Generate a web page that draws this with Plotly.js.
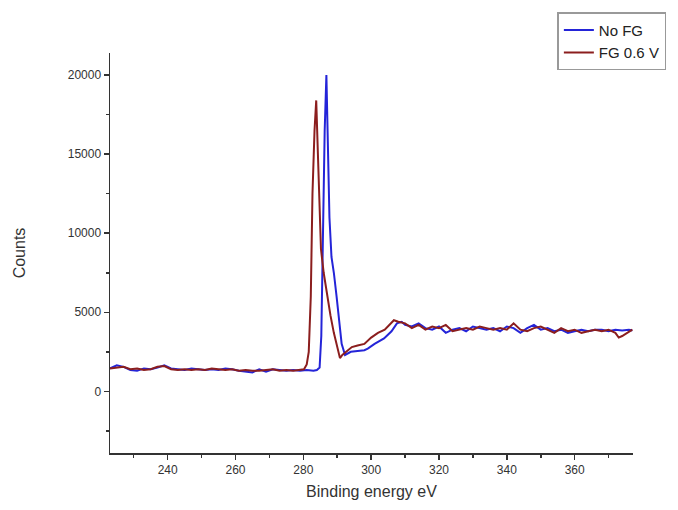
<!DOCTYPE html>
<html>
<head>
<meta charset="utf-8">
<script src="https://cdn.plot.ly/plotly-3.0.1.min.js"></script>
<style>html,body{margin:0;padding:0;background:#fff;}#chart{width:678px;height:510px;}</style>
</head>
<body>
<div id="chart"></div>
<script>
const xNoFG = [223,225,227,229,231,233,235,237,239,241,243,245,247,249,251,253,255,257,259,261,263,265,267,269,271,273,275,277,279,281,283,284,284.8,285.3,285.8,286.3,286.8,287.2,287.7,288.3,289,289.8,290.6,291.3,292.3,293,294,296,298,299,301,303.8,306,307.6,309,310,312,314,316,318,320,322,324,326,328,330,332,334,336,338,340,342,344,346,348,350,352,354,356,358,360,362,364,366,368,370,372,374,376,377];
const yNoFG = [1450,1650,1550,1350,1300,1450,1400,1500,1650,1450,1400,1350,1450,1400,1350,1400,1350,1450,1400,1300,1250,1200,1400,1250,1400,1350,1300,1350,1300,1350,1300,1350,1500,3500,10000,16500,20000,15000,11000,8500,7500,6000,4500,3000,2300,2400,2500,2550,2600,2700,3000,3350,3800,4300,4400,4200,4100,4300,4000,3900,4100,3700,3900,4000,3800,4100,4000,3900,4000,3800,4100,4000,3700,4000,4200,3900,4000,3800,3900,3700,3800,3900,3800,3900,3900,3800,3900,3850,3900,3850];
const xFG06 = [223,225,227,229,231,233,235,237,239,241,243,245,247,249,251,253,255,257,259,261,263,265,267,269,271,273,275,277,279,280.2,281,281.6,282.2,282.7,283.3,283.8,284.3,284.8,285.2,286,287,288,289,290,290.8,291.5,292.5,294.3,296,298,300,302,304,306.7,308,310,312,314,316,318,320,322,324,326,328,330,332,334,336,338,340,342,344,346,348,350,352,354,356,358,360,362,364,366,368,370,372,373,374,376,377];
const yFG06 = [1450,1500,1550,1400,1450,1350,1400,1550,1600,1400,1350,1400,1350,1400,1350,1450,1400,1350,1400,1300,1350,1300,1300,1350,1400,1300,1350,1300,1350,1400,1700,2500,6000,12500,16500,18400,15000,11000,9000,7500,6000,4800,3700,2700,2100,2300,2500,2800,2900,3000,3400,3700,3900,4500,4400,4300,4000,4200,3900,4100,4000,4200,3800,3900,4000,3900,4100,4000,3900,4000,3900,4300,3900,3800,4000,4100,3900,3700,4000,3800,3900,3700,3800,3900,3800,3900,3700,3400,3500,3800,3900];
const seriesNames = ["No FG", "FG 0.6 V"];
const xTickVals = [240,260,280,300,320,340,360];
const yTickVals = [0,5000,10000,15000,20000];

const traces = [
  {x: xNoFG, y: yNoFG, name: seriesNames[0], type: 'scatter', mode: 'lines', line: {color: '#2424d8', width: 2}},
  {x: xFG06, y: yFG06, name: seriesNames[1], type: 'scatter', mode: 'lines', line: {color: '#8b1e1e', width: 2}}
];
const fam = 'Liberation Sans, Arial, sans-serif';
const axisFont = {family: fam, size: 12, color: '#333'};
const layout = {
  width: 678, height: 510,
  paper_bgcolor: '#fff', plot_bgcolor: '#fff',
  margin: {l: 110, r: 35, t: 53, b: 57},
  showlegend: true,
  legend: {x: 1.0638, y: 1.102, xanchor: 'right', yanchor: 'top', bordercolor: '#999', borderwidth: 1.5,
           font: {family: fam, size: 15, color: '#222'}, tracegroupgap: 0},
  xaxis: {range: [223, 377.2], tickvals: xTickVals, ticktext: xTickVals.map(String), showgrid: false, zeroline: false, showline: true, linecolor: '#333', linewidth: 1.5,
          ticks: 'outside', ticklen: 5, tickcolor: '#333', tickwidth: 1.5, tickfont: axisFont, mirror: false,
          minor: {dtick: 10, tick0: 0, ticks: 'outside', ticklen: 3, tickcolor: '#333', showgrid: false},
          title: {text: 'Binding energy eV', font: {family: fam, size: 16, color: '#333'}, standoff: 10}},
  yaxis: {range: [-3900, 21400], tickvals: yTickVals, ticktext: yTickVals.map(String), showgrid: false, zeroline: false, showline: true, linecolor: '#333', linewidth: 1.5,
          ticks: 'outside', ticklen: 5, tickcolor: '#333', tickwidth: 1.5, tickfont: axisFont, mirror: false,
          minor: {dtick: 2500, tick0: 0, ticks: 'outside', ticklen: 3, tickcolor: '#333', showgrid: false},
          title: {text: 'Counts', font: {family: fam, size: 16, color: '#333'}, standoff: 38}}
};
Plotly.newPlot('chart', traces, layout, {displayModeBar: false, staticPlot: true});
</script>
</body>
</html>
